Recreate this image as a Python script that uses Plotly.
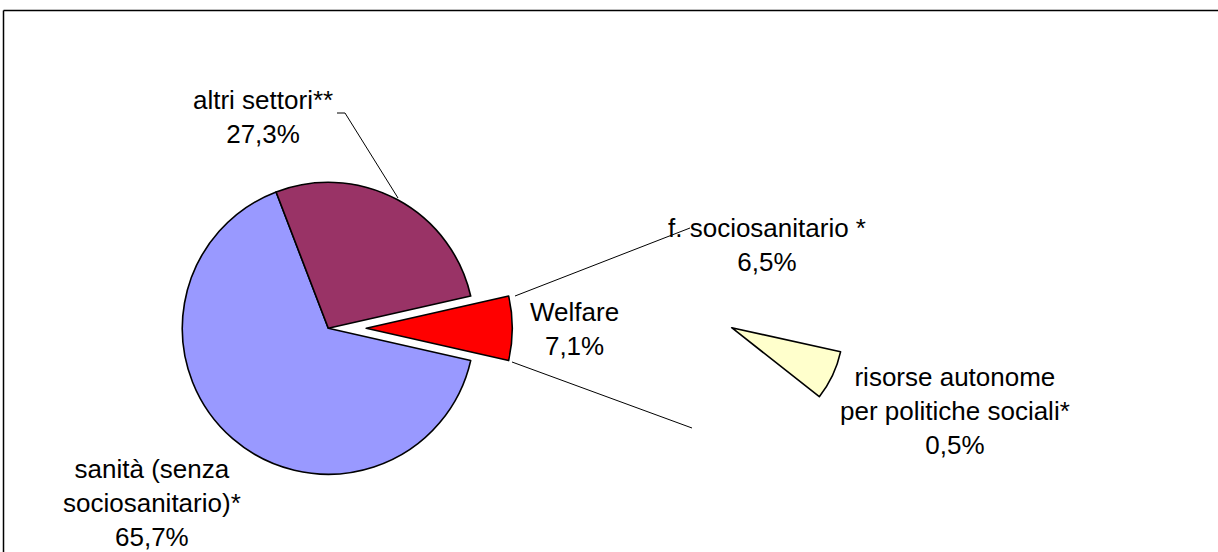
import plotly.graph_objects as go

W, H = 1218, 552

# main pie
main_labels = ["sanità (senza<br>sociosanitario)*", "altri settori**", "Welfare"]
main_values = [65.7, 27.3, 7.1]
main_colors = ["#9999FF", "#993366", "#FF0000"]
main_pull = [0, 0, 0.26]

# secondary pie (breakdown of Welfare)
sub_labels = ["risorse autonome<br>per politiche sociali*", "f. sociosanitario *"]
sub_values = [0.5, 6.5]
sub_colors = ["#FFFFCC", "rgba(0,0,0,0)"]

FONT = "Arial, 'Liberation Sans', sans-serif"


def px(x):
    return x / W


def py(y):
    return 1 - y / H


def domain(cx, cy, half):
    return dict(x=[px(cx - half), px(cx + half)], y=[py(cy + half), py(cy - half)])


fig = go.Figure()

r_main = 146
fig.add_trace(go.Pie(
    labels=main_labels,
    values=main_values,
    sort=False,
    direction="clockwise",
    rotation=90 + 360 * main_values[2] / sum(main_values) / 2,
    pull=main_pull,
    marker=dict(colors=main_colors, line=dict(color="#000000", width=1.6)),
    textinfo="none",
    hoverinfo="label+value",
    domain=domain(328.3, 328.3, r_main * (1 + max(main_pull))),
    showlegend=False,
))

r_sub = 111.5
fig.add_trace(go.Pie(
    labels=sub_labels,
    values=sub_values,
    sort=False,
    direction="clockwise",
    rotation=102.5,
    marker=dict(colors=sub_colors, line=dict(color="#000000", width=[1.6, 0])),
    textinfo="none",
    hoverinfo="label+value",
    domain=domain(731.7, 327.7, r_sub),
    showlegend=False,
))


def seg(x0, y0, x1, y1, width=1):
    return dict(type="line", xref="paper", yref="paper",
                x0=px(x0), y0=py(y0), x1=px(x1), y1=py(y1),
                line=dict(color="#000000", width=width))


shapes = [
    # outer frame: only top and left edges fall inside the window
    seg(3.5, 10.5, W + 20, 10.5, width=1.5),
    seg(3.5, 10.5, 3.5, H + 20, width=1.5),
    # connectors to the secondary pie
    seg(515, 296, 690, 228),
    seg(512, 362, 692, 428),
    # leader for altri settori
    seg(337, 113, 345, 113),
    seg(345, 113, 398, 198),
]

labels_pos = [
    ("altri settori**<br>27,3%", 263, 117),
    ("f. sociosanitario *<br>6,5%", 767, 245),
    ("Welfare<br>7,1%", 574, 329),
    ("risorse autonome<br>per politiche sociali*<br>0,5%", 955, 411),
    ("sanità (senza<br>sociosanitario)*<br>65,7%", 152, 503),
]
annotations = [
    dict(text=t, x=px(x), y=py(y), xref="paper", yref="paper",
         xanchor="center", yanchor="middle", showarrow=False,
         font=dict(family=FONT, size=26, color="#000000"))
    for t, x, y in labels_pos
]

fig.update_layout(
    width=W,
    height=H,
    margin=dict(l=0, r=0, t=0, b=0),
    paper_bgcolor="#ffffff",
    plot_bgcolor="#ffffff",
    font=dict(family=FONT, color="#000000"),
    shapes=shapes,
    annotations=annotations,
)

# drop the default body margin so the figure sits at the window's corner
fig.write_html(
    "out.html",
    config={"displayModeBar": False},
    post_script="document.body.style.margin='0';",
)
